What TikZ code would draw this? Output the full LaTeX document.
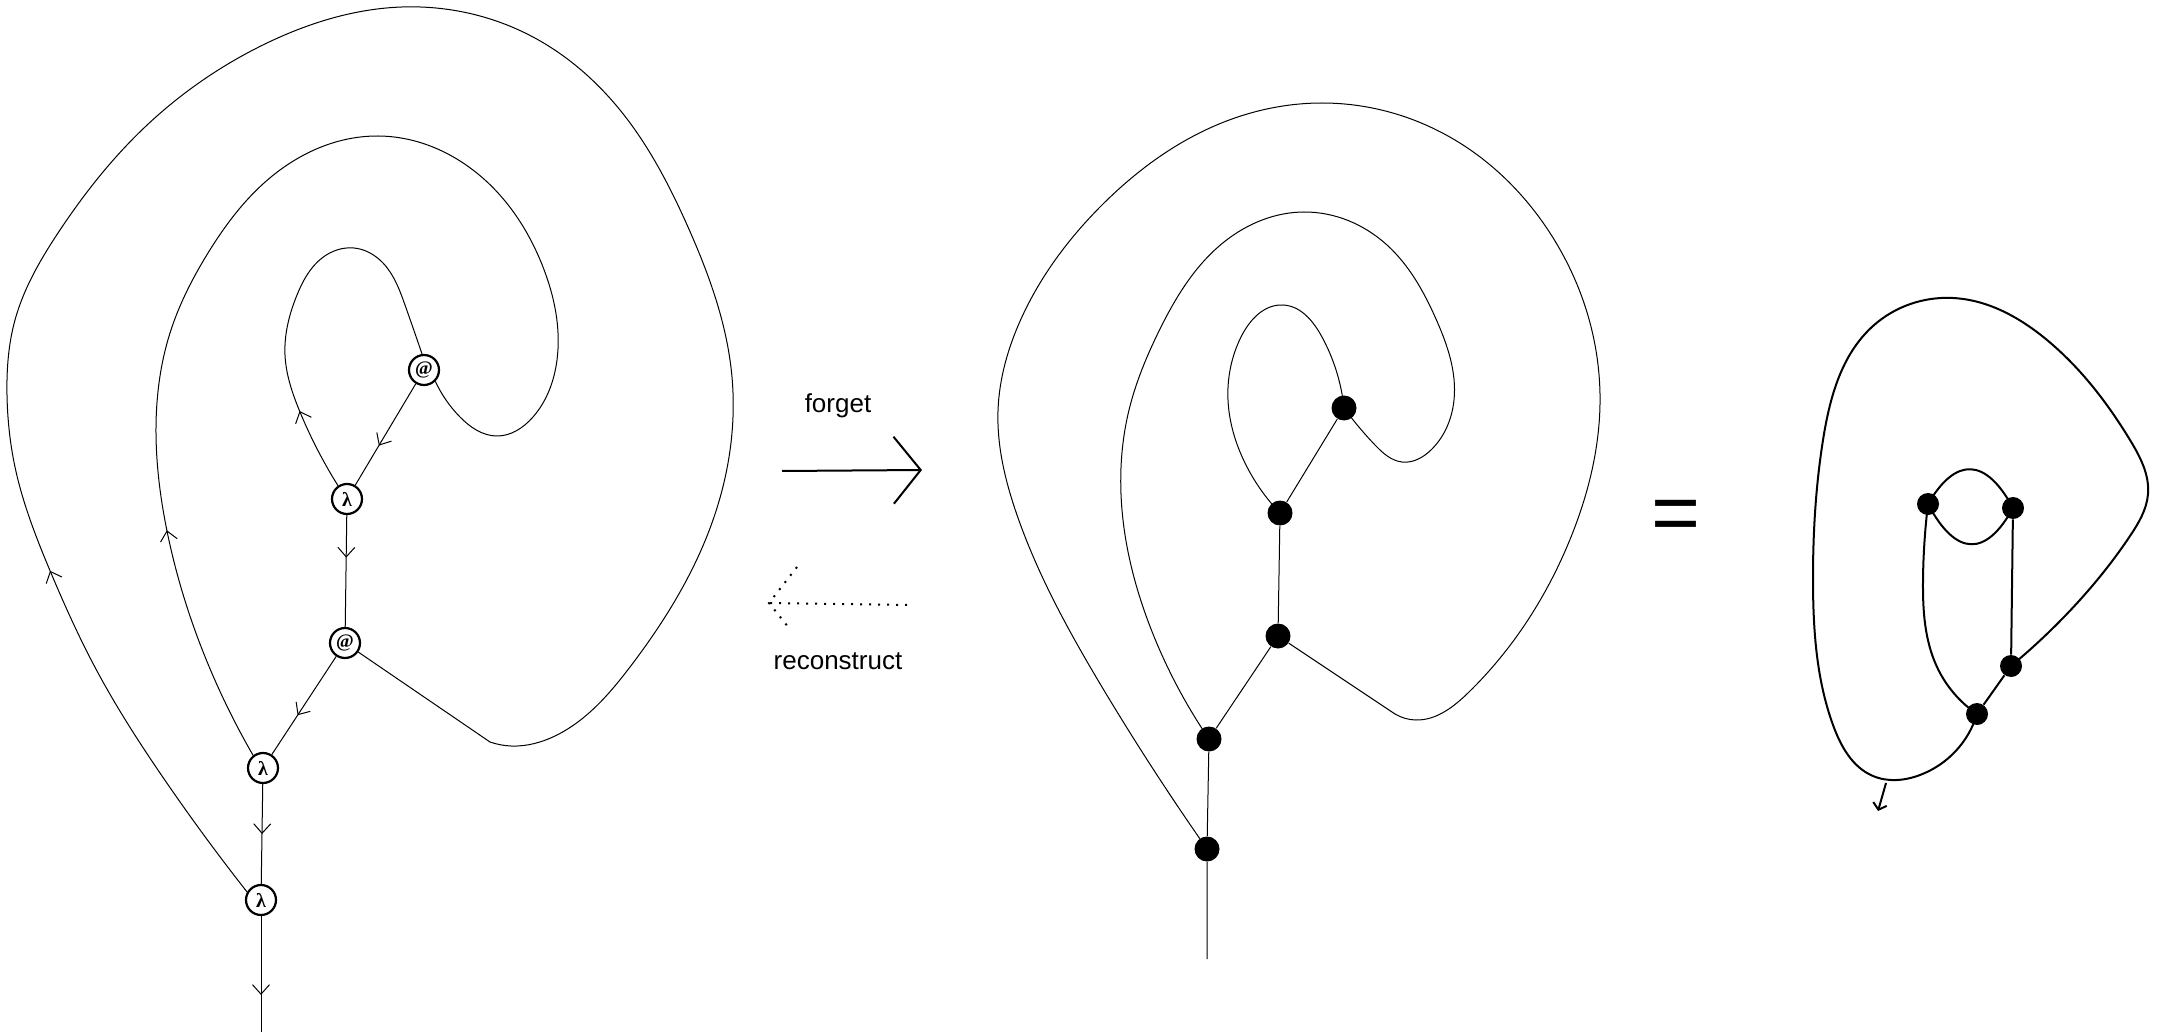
\documentclass[tikz,border=0pt]{standalone}
\usepackage{fontspec}
\setmainfont{Liberation Sans}
\newfontfamily\nodeserif{Liberation Serif}
\usetikzlibrary{arrows.meta,decorations.markings,hobby}
\newcommand{\lamsym}{{\nodeserif\bfseries\fontsize{10pt}{10pt}\selectfont λ}}
\newcommand{\atsym}{{\nodeserif\bfseries\fontsize{9.5pt}{9.5pt}\selectfont @}}
\begin{document}
\begin{tikzpicture}[x=0.5pt,y=-0.5pt,
  curve/.style={line width=0.5pt, line join=round},
  rline/.style={line width=1pt, line join=round},
  lamnode/.style={circle, draw, line width=1.1pt, minimum size=15pt, inner sep=0pt, fill=white},
  bdot/.style={circle, fill=black, minimum size=12.5pt, inner sep=0pt},
  sdot/.style={circle, fill=black, minimum size=11pt, inner sep=0pt},
  midarrow/.style={postaction={decorate}, decoration={markings, mark=at position #1 with {\arrow{Straight Barb[length=4.75pt,width=8.5pt]}}}},
  dotline/.style={line width=1pt, dash pattern=on 1pt off 3.5pt},
  label/.style={font=\fontsize{13pt}{15pt}\selectfont}
]
\useasboundingbox (0,0) rectangle (2164,1032);

% ---------- left diagram ----------
\node[lamnode] (lamA) at (347,499) {\lamsym};
\node[lamnode] (atA) at (424,370) {\atsym};
\node[lamnode] (atB) at (345,643) {\atsym};
\node[lamnode] (lamB) at (263,768) {\lamsym};
\node[lamnode] (lamC) at (261,900) {\lamsym};
\coordinate (endL) at (261,1032);
\coordinate (c3e) at (490,742);

\draw[curve, midarrow=0.61] (atA) -- (lamA);
\draw[curve, midarrow=0.38] (lamA) -- (atB);
\draw[curve, midarrow=0.6] (atB) -- (lamB);
\draw[curve, midarrow=0.5] (lamB) -- (lamC);
\draw[curve, midarrow=0.68] (lamC) -- (endL);

\draw[curve, midarrow=42pt] (lamA.124) to[curve through={(300,412) (285,355) (297,295) (322,258) (354,248) (383,263) (405,305)}] (atA.97);
\draw[curve, midarrow=121pt] (lamB.128) to[curve through={(208,664) (167,531) (156,433) (170,333) (208,253) (271,177) (378,136) (485,180) (543,267) (557,360) (533,417) (497,436) (460,417)}] (atA.-45);
\draw[curve, midarrow=189pt] (lamC.150) to[curve through={(160,773) (97,671) (51,573) (15,467) (7,395) (15,320) (58,233) (145,127) (267,43) (402,7) (533,37) (620,110) (688,227) (732,377) (713,520) (630,667) (557,735) (511,746)}] (c3e);
\draw[curve] (atB) -- (c3e);

% ---------- arrows between ----------
\node[label] (forget) at (838,406) {forget};
\coordinate (fS) at (782,471);
\coordinate (fT) at (922,470);
\draw[line width=1pt, -{Straight Barb[length=13.5pt,width=33.5pt]}] (fS) -- (fT);

\node[label] (recon) at (838,661) {reconstruct};
\coordinate (rS) at (907,605);
\coordinate (rT) at (769,603);
\coordinate (rA) at (797,567);
\coordinate (rB) at (789,628);
\draw[dotline] (rS) -- (rT);
\draw[dotline] (rA) -- (rT) -- (rB);

% ---------- middle diagram ----------
\node[bdot] (m1) at (1344,408) {};
\node[bdot] (m2) at (1280,513) {};
\node[bdot] (m3) at (1278,636) {};
\node[bdot] (m4) at (1209,739) {};
\node[bdot] (m5) at (1207,849) {};
\coordinate (endM) at (1207,959);
\coordinate (mce) at (1395,714);

\draw[curve] (m1) -- (m2) -- (m3) -- (m4) -- (m5) -- (endM);
\draw[curve] (m2.center) to[curve through={(1245,463) (1228,400) (1241,337) (1283,305) (1322,337)}] (m1.center);
\draw[curve] (m4.center) to[curve through={(1151,629) (1123,520) (1129,410) (1159,331) (1224,242) (1304,212) (1387,245) (1436,319) (1454,400) (1432,449) (1402,462) (1375,445)}] (m1.center);
\draw[curve] (m5.center) to[curve through={(1102,687) (1017,515) (998,411) (1021,319) (1102,205) (1224,122) (1322,103) (1448,136) (1550,233) (1600,394) (1571,537) (1469,692) (1416,720)}] (mce);
\draw[curve] (m3) -- (mce);

% ---------- equals ----------
\node[font=\fontsize{42pt}{42pt}\selectfont, anchor=base, inner sep=0pt] (eq) at (1676,541) {=};

% ---------- right diagram ----------
\node[sdot] (r1) at (1928,504) {};
\node[sdot] (r2) at (2013,508) {};
\node[sdot] (r3) at (2011,666) {};
\node[sdot] (r4) at (1977,714) {};
\draw[rline] (r2) -- (r3) -- (r4);
\draw[rline] (r1.center) .. controls (1956,456) and (1986,458) .. (r2.center);
\draw[rline] (r1.center) .. controls (1956,557) and (1986,557) .. (r2.center);
\draw[rline] (r1.center) to[curve through={(1923,580) (1937,667)}] (r4.center);
\draw[rline] (r4.center) to[curve through={(1920,775) (1873,776) (1833,725) (1813,582) (1823,440) (1873,326) (1953,298) (2047,340) (2130,440) (2148,494) (2130,536) (2063,618)}] (r3.center);
\coordinate (ra) at (1886,783);
\coordinate (rb) at (1878,811);
\draw[rline, -{Straight Barb[length=3pt,width=7pt]}] (ra) -- (rb);
\end{tikzpicture}
\end{document}
